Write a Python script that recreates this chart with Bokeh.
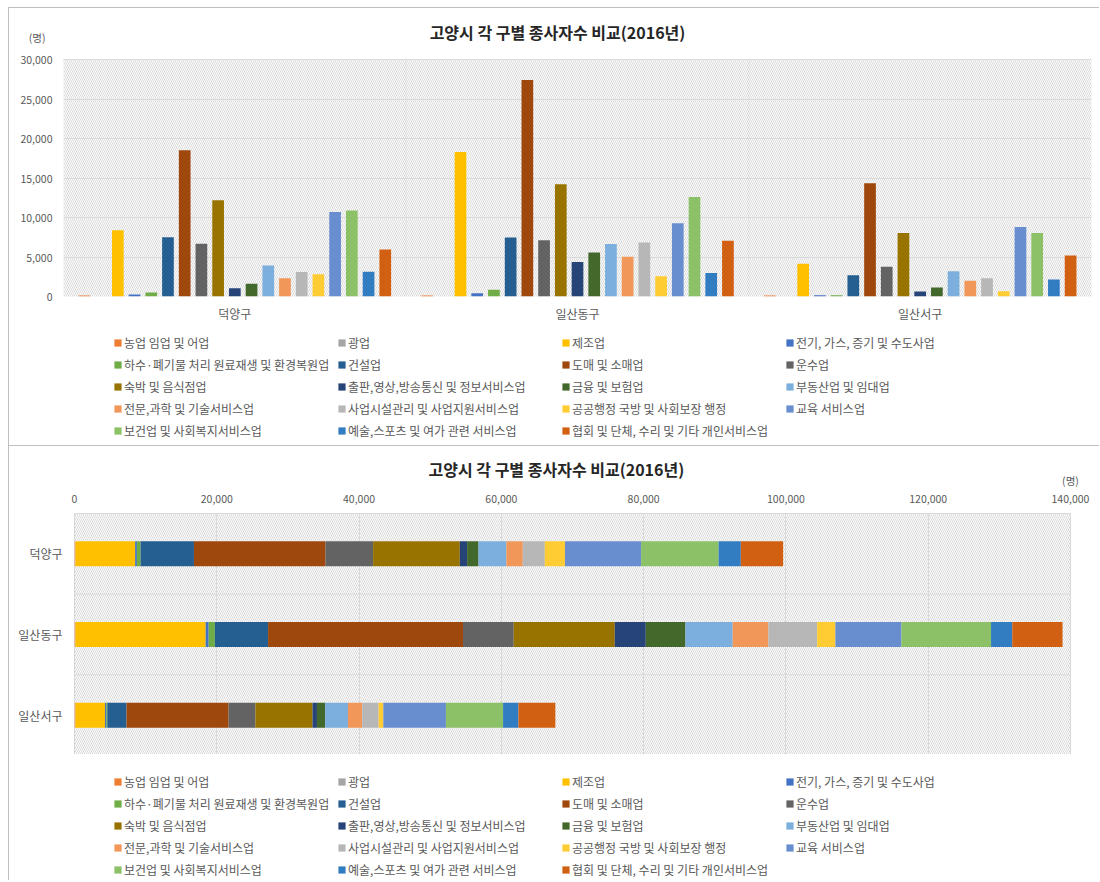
from bokeh.plotting import figure
from bokeh.models import (ColumnDataSource, FactorRange, Range1d, Legend, LegendItem, Label, Span, Title,
                          BoxAnnotation, NumeralTickFormatter, FixedTicker)
from bokeh.transform import dodge
from bokeh.embed import file_html
from bokeh.resources import INLINE

FONT = "Noto Sans CJK KR"
TXT = "#595959"
GRID = "#D9D9D9"

title_text = "고양시 각 구별 종사자수 비교(2016년)"
unit_text = "(명)"

districts = ["덕양구", "일산동구", "일산서구"]

industries = [
    "농업 임업 및 어업", "광업", "제조업", "전기, 가스, 증기 및 수도사업",
    "하수·폐기물 처리 원료재생 및 환경복원업", "건설업", "도매 및 소매업", "운수업",
    "숙박 및 음식점업", "출판,영상,방송통신 및 정보서비스업", "금융 및 보험업", "부동산업 및 임대업",
    "전문,과학 및 기술서비스업", "사업시설관리 및 사업지원서비스업", "공공행정 국방 및 사회보장 행정", "교육 서비스업",
    "보건업 및 사회복지서비스업", "예술,스포츠 및 여가 관련 서비스업", "협회 및 단체, 수리 및 기타 개인서비스업",
]

colors = [
    "#ED7D31", "#A5A5A5", "#FFC000", "#4472C4",
    "#70AD47", "#255E91", "#9E480E", "#636363",
    "#997300", "#264478", "#43682B", "#7CAFDD",
    "#F1975A", "#B7B7B7", "#FFCD33", "#698ED0",
    "#8CC168", "#327DC2", "#D26012",
]

deokyang = [130, 10, 8380, 250, 520, 7500, 18500, 6680, 12190, 1030, 1600, 3920,
            2300, 3100, 2830, 10700, 10900, 3120, 5950]
ilsan_dong = [130, 10, 18300, 420, 870, 7480, 27400, 7130, 14200, 4360, 5580, 6640,
              5020, 6850, 2560, 9280, 12600, 2980, 7070]
ilsan_seo = [130, 10, 4150, 170, 150, 2700, 14350, 3770, 8030, 620, 1150, 3210,
             2000, 2310, 660, 8800, 8030, 2160, 5190]

y_ticks = [0, 5000, 10000, 15000, 20000, 25000, 30000]
x_ticks = [0, 20000, 40000, 60000, 80000, 100000, 120000, 140000]

values = [deokyang, ilsan_dong, ilsan_seo]
n = len(industries)
NCOL = 4

W = 1091
Y_MAX = 30000
# top chart: frame reaches the canvas top; the plot area itself ends at Y_MAX
FRAME1_H = 288
PLOT1_H = 237
y_top = Y_MAX * FRAME1_H / PLOT1_H
unit_tick = round(Y_MAX * (PLOT1_H + 22) / PLOT1_H)

BORDER = "1px solid #BFBFBF"


def hatch_box(**kw):
    return BoxAnnotation(fill_alpha=0, line_color=None, hatch_pattern="\\", hatch_color="#CFCFCF",
                         hatch_alpha=1.0, hatch_scale=4, hatch_weight=0.8, level="underlay", **kw)


def style_axis(ax, size, standoff):
    ax.axis_line_color = None
    ax.major_tick_line_color = None
    ax.minor_tick_line_color = None
    ax.major_tick_out = 0
    ax.major_tick_in = 0
    ax.minor_tick_out = 0
    ax.minor_tick_in = 0
    ax.major_label_text_font = FONT
    ax.major_label_text_color = TXT
    ax.major_label_text_font_size = size
    ax.major_label_standoff = standoff


def legend_panel(height, top_gap):
    """A frame-only figure that holds the series legend (4 columns)."""
    q = figure(width=W, height=height, x_range=(0, 1), y_range=(0, 1),
               x_axis_location=None, y_axis_location=None, output_backend="svg",
               toolbar_location=None, title=None,
               min_border_left=0, min_border_right=0, min_border_top=0, min_border_bottom=0)
    q.styles = {"margin-left": "8px", "border-left": BORDER}
    q.outline_line_color = None
    q.xgrid.grid_line_color = None
    q.ygrid.grid_line_color = None
    # zero-height proxy bars: they only lend their colour to the legend swatches
    proxies = [q.vbar(x=[0], top=[0], bottom=[0], width=0, fill_color=colors[i], line_color=None)
               for i in range(n)]
    item_h, gap = 18, 4
    for c in range(NCOL):
        idx = list(range(c, n, NCOL))
        items = [LegendItem(label=industries[i], renderers=[proxies[i]]) for i in idx]
        leg_h = len(idx) * item_h + (len(idx) - 1) * gap
        lg = Legend(items=items, location=(104 + 224 * c, height - top_gap - leg_h),
                    orientation="vertical", padding=0, margin=0, spacing=gap,
                    glyph_width=9, glyph_height=9, label_height=item_h, label_standoff=2,
                    label_text_font=FONT, label_text_font_size="12px", label_text_color=TXT,
                    border_line_color=None, background_fill_alpha=0)
        q.add_layout(lg)
    return q


# ---------------- top chart: clustered columns ----------------
p1 = figure(width=W, height=FRAME1_H + 30, x_range=FactorRange(factors=districts), y_range=Range1d(0, y_top),
            output_backend="svg", toolbar_location=None, title=None,
            min_border_left=54, min_border_right=9, min_border_top=0, min_border_bottom=30)
p1.styles = {"margin-left": "8px", "margin-top": "7px", "border-top": BORDER, "border-left": BORDER}
p1.outline_line_color = None
p1.center.insert(0, hatch_box(top=Y_MAX))
for k in range(len(districts)):
    p1.add_layout(BoxAnnotation(left=k, right=k + 1, bottom=0, top=Y_MAX, fill_alpha=0,
                                line_color=GRID, line_width=1, level="underlay"))
p1.ygrid.grid_line_color = GRID
p1.ygrid.ticker = FixedTicker(ticks=y_ticks)
p1.xgrid.grid_line_color = None
p1.yaxis.ticker = FixedTicker(ticks=y_ticks + [unit_tick])
p1.yaxis.formatter = NumeralTickFormatter(format="0,0")
p1.yaxis.major_label_overrides = {unit_tick: unit_text + "\u00a0\u00a0\u00a0"}
style_axis(p1.yaxis[0], "10.5px", 11)
style_axis(p1.xaxis[0], "12px", 8)

slot = 1.0 / (n + 1.5)
for i in range(n):
    src = ColumnDataSource(dict(district=districts, value=[v[i] for v in values]))
    p1.vbar(x=dodge("district", (i - (n - 1) / 2) * slot, range=p1.x_range), top="value",
            width=0.7 * slot, source=src, fill_color=colors[i], line_color=None)

p1.add_layout(Label(x=494, y=FRAME1_H - 23, x_units="screen", y_units="screen", text=title_text,
                    text_font=FONT, text_font_size="16px", text_font_style="bold",
                    text_color="#262626", text_align="center", text_baseline="middle"))

leg1 = legend_panel(120, 8)

# ---------------- bottom chart: stacked bars ----------------
p2 = figure(width=W, height=309, x_range=(0, 140000), y_range=FactorRange(factors=districts[::-1]),
            x_axis_location="above", output_backend="svg", toolbar_location=None, title=None,
            min_border_left=65, min_border_right=30, min_border_top=67, min_border_bottom=0)
p2.styles = {"margin-left": "8px", "border-top": BORDER, "border-left": BORDER}
p2.outline_line_color = GRID
p2.center.insert(0, hatch_box())
p2.xgrid.grid_line_color = GRID
p2.ygrid.grid_line_color = None
p2.xaxis.ticker = FixedTicker(ticks=x_ticks)
p2.xaxis.formatter = NumeralTickFormatter(format="0,0")
p2.xaxis.major_label_overrides = {x_ticks[-1]: unit_text + "\n" + f"{x_ticks[-1]:,}"}
style_axis(p2.xaxis[0], "10.5px", 8)
style_axis(p2.yaxis[0], "12px", 12)

for k in range(1, len(districts)):
    p2.add_layout(Span(location=k, dimension="width", line_color=GRID, line_width=1, level="underlay"))

keys = [f"s{i}" for i in range(n)]
data2 = {"district": districts}
for i in range(n):
    data2[keys[i]] = [v[i] for v in values]
src2 = ColumnDataSource(data2)
p2.hbar_stack(keys, y="district", height=0.31, fill_color=colors, line_color=None, source=src2)

p2.add_layout(Title(text=title_text, align="left", offset=354, standoff=-23,
                    text_font=FONT, text_font_size="16px", text_font_style="bold",
                    text_color="#262626"), "above")

leg2 = legend_panel(126, 18)

open("out.html", "w").write(file_html([p1, leg1, p2, leg2], INLINE))
